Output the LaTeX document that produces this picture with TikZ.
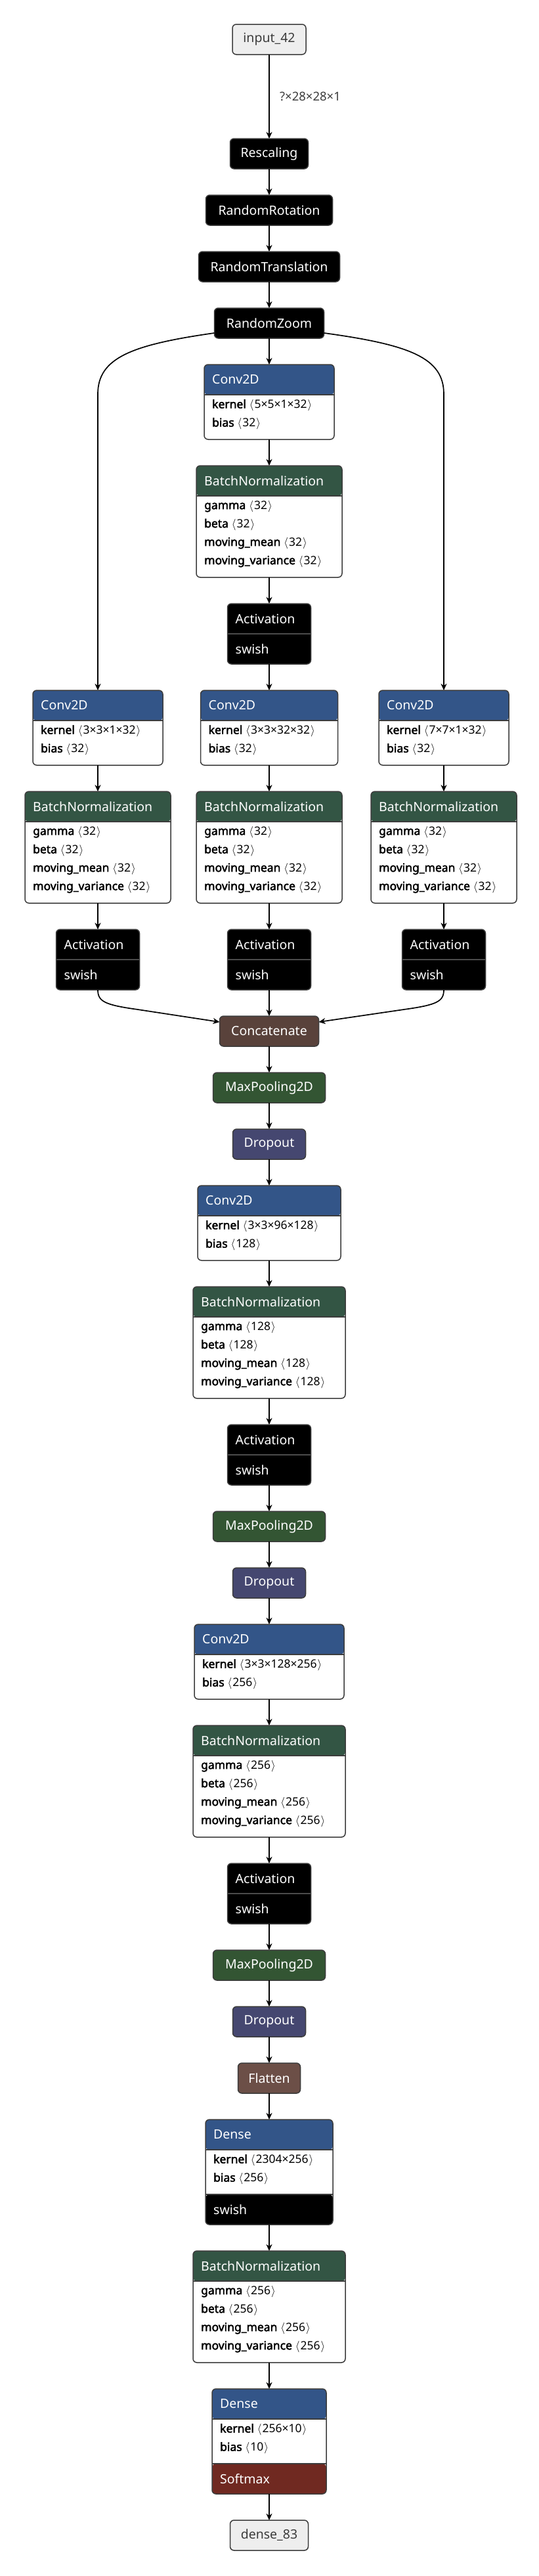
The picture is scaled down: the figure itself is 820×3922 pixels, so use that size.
\documentclass[tikz,border=0pt]{standalone}
\usepackage{fontspec}
\setmainfont{Noto Sans}[BoldFont={Noto Sans},BoldFeatures={FakeBold=2.5}]
\usetikzlibrary{arrows.meta,positioning}
\definecolor{netronLayer}{RGB}{51, 85, 136}
\definecolor{netronNorm}{RGB}{51, 85, 68}
\definecolor{netronPool}{RGB}{51, 85, 51}
\definecolor{netronDrop}{RGB}{69, 71, 112}
\definecolor{netronShape}{RGB}{108, 79, 71}
\definecolor{netronTensor}{RGB}{89, 66, 59}
\definecolor{netronAct}{RGB}{112, 41, 33}
\definecolor{netronIO}{RGB}{238, 238, 238}
\definecolor{netronLine}{RGB}{60, 60, 60}
\definecolor{netronSep}{RGB}{75, 75, 75}
\newcommand{\shp}[1]{\hspace{5pt}$\langle$\hspace{1pt}#1\hspace{1pt}$\rangle$}

\begin{document}
\begin{tikzpicture}[
  x=1pt, y=-1pt,
  op/.style={
    draw=netronLine,
    line width=1.5pt,
    rounded corners=6pt,
    fill=black,
    text=white,
    anchor=north,
    inner sep=0pt,
    outer sep=0pt,
    minimum height=46pt,
    font=\fontsize{19.5}{24}\selectfont
  },
  io/.style={op,fill=netronIO,text=netronLine},
  panel/.style={op,fill=white},
  hdrfill/.style={path picture={
    \fill[#1] (path picture bounding box.north west) rectangle ([yshift=-46pt]path picture bounding box.north east);
    \draw[netronLine,line width=1.5pt] ([yshift=-46pt]path picture bounding box.north west) -- ([yshift=-46pt]path picture bounding box.north east);}},
  hdrtail/.style 2 args={path picture={
    \fill[#1] (path picture bounding box.north west) rectangle ([yshift=-46pt]path picture bounding box.north east);
    \fill[#2] (path picture bounding box.south west) rectangle ([yshift=46pt]path picture bounding box.south east);
    \draw[netronLine,line width=1.5pt] ([yshift=-46pt]path picture bounding box.north west) -- ([yshift=-46pt]path picture bounding box.north east);
    \draw[netronLine,line width=1.5pt] ([yshift=46pt]path picture bounding box.south west) -- ([yshift=46pt]path picture bounding box.south east);}},
  act/.style={op,minimum width=127pt,minimum height=92pt,path picture={
    \draw[netronSep,line width=1.5pt] ([yshift=-46pt]path picture bounding box.north west) -- ([yshift=-46pt]path picture bounding box.north east);}},
  conv/.style={panel,hdrfill=netronLayer,minimum height=114pt},
  norm/.style={panel,hdrfill=netronNorm,minimum height=170pt},
  dense/.style={panel,minimum height=160pt},
  hdrtext/.style={anchor=west,text=white,inner sep=0pt,font=\fontsize{19.5}{24}\selectfont},
  attrs/.style={anchor=north west,align=left,inner sep=0pt,font=\fontsize{17.5}{28}\selectfont,
    execute at begin node={\rule{0pt}{20pt}}},
  flow/.style={-{Stealth[length=10pt,width=9pt,inset=3pt]},line width=1.7pt},
  shapelbl/.style={anchor=west,font=\fontsize{18.5}{22}\selectfont,text=netronLine}
]
  \path[use as bounding box,fill=white] (0,0) rectangle (820,3922);

  % input and augmentation
  \node[io,minimum width=112pt] (input) at (410,37) {input\_42};
  \node[op,minimum width=119pt] (resc) at (410,211) {Rescaling};
  \node[op,minimum width=193pt,below=40pt of resc] (rrot) {RandomRotation};
  \node[op,minimum width=215pt,below=40pt of rrot] (rtrans) {RandomTranslation};
  \node[op,minimum width=167pt,below=40pt of rtrans] (rzoom) {RandomZoom};

  % middle stem
  \node[conv,minimum width=198pt,below=40pt of rzoom] (convA) {};
  \node[hdrtext] at ([xshift=12pt,yshift=-23pt]convA.north west) {Conv2D};
  \node[attrs] at ([xshift=12pt,yshift=-53pt]convA.north west) {\textbf{kernel}\shp{5×5×1×32}\\\textbf{bias}\shp{32}};
  \node[norm,minimum width=222pt,below=40pt of convA] (bnA) {};
  \node[hdrtext] at ([xshift=12pt,yshift=-23pt]bnA.north west) {BatchNormalization};
  \node[attrs] at ([xshift=12pt,yshift=-53pt]bnA.north west) {\textbf{gamma}\shp{32}\\\textbf{beta}\shp{32}\\\textbf{moving\_mean}\shp{32}\\\textbf{moving\_variance}\shp{32}};
  \node[act,below=40pt of bnA] (actA) {};
  \node[hdrtext] at ([xshift=12pt,yshift=-23pt]actA.north west) {Activation};
  \node[hdrtext] at ([xshift=12pt,yshift=-69pt]actA.north west) {swish};

  % three branches
  \node[conv,minimum width=198pt] (convL) at (149,1051) {};
  \node[hdrtext] at ([xshift=12pt,yshift=-23pt]convL.north west) {Conv2D};
  \node[attrs] at ([xshift=12pt,yshift=-53pt]convL.north west) {\textbf{kernel}\shp{3×3×1×32}\\\textbf{bias}\shp{32}};
  \node[conv,minimum width=209pt,below=40pt of actA] (convM) {};
  \node[hdrtext] at ([xshift=12pt,yshift=-23pt]convM.north west) {Conv2D};
  \node[attrs] at ([xshift=12pt,yshift=-53pt]convM.north west) {\textbf{kernel}\shp{3×3×32×32}\\\textbf{bias}\shp{32}};
  \node[conv,minimum width=198pt] (convR) at (676,1051) {};
  \node[hdrtext] at ([xshift=12pt,yshift=-23pt]convR.north west) {Conv2D};
  \node[attrs] at ([xshift=12pt,yshift=-53pt]convR.north west) {\textbf{kernel}\shp{7×7×1×32}\\\textbf{bias}\shp{32}};

  \node[norm,minimum width=222pt,below=40pt of convL] (bnL) {};
  \node[hdrtext] at ([xshift=12pt,yshift=-23pt]bnL.north west) {BatchNormalization};
  \node[attrs] at ([xshift=12pt,yshift=-53pt]bnL.north west) {\textbf{gamma}\shp{32}\\\textbf{beta}\shp{32}\\\textbf{moving\_mean}\shp{32}\\\textbf{moving\_variance}\shp{32}};
  \node[norm,minimum width=222pt,below=40pt of convM] (bnM) {};
  \node[hdrtext] at ([xshift=12pt,yshift=-23pt]bnM.north west) {BatchNormalization};
  \node[attrs] at ([xshift=12pt,yshift=-53pt]bnM.north west) {\textbf{gamma}\shp{32}\\\textbf{beta}\shp{32}\\\textbf{moving\_mean}\shp{32}\\\textbf{moving\_variance}\shp{32}};
  \node[norm,minimum width=222pt,below=40pt of convR] (bnR) {};
  \node[hdrtext] at ([xshift=12pt,yshift=-23pt]bnR.north west) {BatchNormalization};
  \node[attrs] at ([xshift=12pt,yshift=-53pt]bnR.north west) {\textbf{gamma}\shp{32}\\\textbf{beta}\shp{32}\\\textbf{moving\_mean}\shp{32}\\\textbf{moving\_variance}\shp{32}};

  \node[act,below=40pt of bnL] (actL) {};
  \node[hdrtext] at ([xshift=12pt,yshift=-23pt]actL.north west) {Activation};
  \node[hdrtext] at ([xshift=12pt,yshift=-69pt]actL.north west) {swish};
  \node[act,below=40pt of bnM] (actM) {};
  \node[hdrtext] at ([xshift=12pt,yshift=-23pt]actM.north west) {Activation};
  \node[hdrtext] at ([xshift=12pt,yshift=-69pt]actM.north west) {swish};
  \node[act,below=40pt of bnR] (actR) {};
  \node[hdrtext] at ([xshift=12pt,yshift=-23pt]actR.north west) {Activation};
  \node[hdrtext] at ([xshift=12pt,yshift=-69pt]actR.north west) {swish};

  % trunk
  \node[op,fill=netronTensor,minimum width=151pt,below=40pt of actM] (concat) {Concatenate};
  \node[op,fill=netronPool,minimum width=171pt,below=40pt of concat] (poolA) {MaxPooling2D};
  \node[op,fill=netronDrop,minimum width=111pt,below=40pt of poolA] (dropA) {Dropout};
  \node[conv,minimum width=218pt,below=40pt of dropA] (convB) {};
  \node[hdrtext] at ([xshift=12pt,yshift=-23pt]convB.north west) {Conv2D};
  \node[attrs] at ([xshift=12pt,yshift=-53pt]convB.north west) {\textbf{kernel}\shp{3×3×96×128}\\\textbf{bias}\shp{128}};
  \node[norm,minimum width=232pt,below=40pt of convB] (bnB) {};
  \node[hdrtext] at ([xshift=12pt,yshift=-23pt]bnB.north west) {BatchNormalization};
  \node[attrs] at ([xshift=12pt,yshift=-53pt]bnB.north west) {\textbf{gamma}\shp{128}\\\textbf{beta}\shp{128}\\\textbf{moving\_mean}\shp{128}\\\textbf{moving\_variance}\shp{128}};
  \node[act,below=40pt of bnB] (actB) {};
  \node[hdrtext] at ([xshift=12pt,yshift=-23pt]actB.north west) {Activation};
  \node[hdrtext] at ([xshift=12pt,yshift=-69pt]actB.north west) {swish};
  \node[op,fill=netronPool,minimum width=171pt,below=40pt of actB] (poolB) {MaxPooling2D};
  \node[op,fill=netronDrop,minimum width=111pt,below=40pt of poolB] (dropB) {Dropout};
  \node[conv,minimum width=228pt,below=40pt of dropB] (convC) {};
  \node[hdrtext] at ([xshift=12pt,yshift=-23pt]convC.north west) {Conv2D};
  \node[attrs] at ([xshift=12pt,yshift=-53pt]convC.north west) {\textbf{kernel}\shp{3×3×128×256}\\\textbf{bias}\shp{256}};
  \node[norm,minimum width=232pt,below=40pt of convC] (bnC) {};
  \node[hdrtext] at ([xshift=12pt,yshift=-23pt]bnC.north west) {BatchNormalization};
  \node[attrs] at ([xshift=12pt,yshift=-53pt]bnC.north west) {\textbf{gamma}\shp{256}\\\textbf{beta}\shp{256}\\\textbf{moving\_mean}\shp{256}\\\textbf{moving\_variance}\shp{256}};
  \node[act,below=40pt of bnC] (actC) {};
  \node[hdrtext] at ([xshift=12pt,yshift=-23pt]actC.north west) {Activation};
  \node[hdrtext] at ([xshift=12pt,yshift=-69pt]actC.north west) {swish};
  \node[op,fill=netronPool,minimum width=171pt,below=40pt of actC] (poolC) {MaxPooling2D};
  \node[op,fill=netronDrop,minimum width=111pt,below=40pt of poolC] (dropC) {Dropout};
  \node[op,fill=netronShape,minimum width=95pt,below=40pt of dropC] (flat) {Flatten};

  % classifier head
  \node[dense,hdrtail={netronLayer}{black},minimum width=194pt,below=40pt of flat] (denseA) {};
  \node[hdrtext] at ([xshift=12pt,yshift=-23pt]denseA.north west) {Dense};
  \node[attrs] at ([xshift=12pt,yshift=-53pt]denseA.north west) {\textbf{kernel}\shp{2304×256}\\\textbf{bias}\shp{256}};
  \node[hdrtext] at ([xshift=12pt,yshift=23pt]denseA.south west) {swish};
  \node[norm,minimum width=232pt,below=40pt of denseA] (bnD) {};
  \node[hdrtext] at ([xshift=12pt,yshift=-23pt]bnD.north west) {BatchNormalization};
  \node[attrs] at ([xshift=12pt,yshift=-53pt]bnD.north west) {\textbf{gamma}\shp{256}\\\textbf{beta}\shp{256}\\\textbf{moving\_mean}\shp{256}\\\textbf{moving\_variance}\shp{256}};
  \node[dense,hdrtail={netronLayer}{netronAct},minimum width=174pt,below=40pt of bnD] (denseB) {};
  \node[hdrtext] at ([xshift=12pt,yshift=-23pt]denseB.north west) {Dense};
  \node[attrs] at ([xshift=12pt,yshift=-53pt]denseB.north west) {\textbf{kernel}\shp{256×10}\\\textbf{bias}\shp{10}};
  \node[hdrtext] at ([xshift=12pt,yshift=23pt]denseB.south west) {Softmax};
  \node[io,minimum width=119pt,below=40pt of denseB] (output) {dense\_83};

  % connectors
  \draw[flow] (input) -- node[shapelbl,xshift=12pt] {?×28×28×1} (resc);
  \draw[flow] (resc) -- (rrot);
  \draw[flow] (rrot) -- (rtrans);
  \draw[flow] (rtrans) -- (rzoom);
  \draw[flow] (rzoom) -- (convA);
  \draw[flow] ([yshift=8pt]rzoom.south west) .. controls (200,525) and (149,545) .. (149,600) -- (convL.north);
  \draw[flow] ([yshift=8pt]rzoom.south east) .. controls (625,525) and (676,545) .. (676,600) -- (convR.north);
  \draw[flow] (convA) -- (bnA);
  \draw[flow] (bnA) -- (actA);
  \draw[flow] (actA) -- (convM);
  \draw[flow] (convL) -- (bnL);
  \draw[flow] (convM) -- (bnM);
  \draw[flow] (convR) -- (bnR);
  \draw[flow] (bnL) -- (actL);
  \draw[flow] (bnM) -- (actM);
  \draw[flow] (bnR) -- (actR);
  \draw[flow] (actL.south) .. controls (149,1525) and (160,1530) .. (210,1537) -- ([yshift=-9pt]concat.north west);
  \draw[flow] (actM) -- (concat);
  \draw[flow] (actR.south) .. controls (676,1525) and (665,1530) .. (615,1537) -- ([yshift=-9pt]concat.north east);
  \draw[flow] (concat) -- (poolA);
  \draw[flow] (poolA) -- (dropA);
  \draw[flow] (dropA) -- (convB);
  \draw[flow] (convB) -- (bnB);
  \draw[flow] (bnB) -- (actB);
  \draw[flow] (actB) -- (poolB);
  \draw[flow] (poolB) -- (dropB);
  \draw[flow] (dropB) -- (convC);
  \draw[flow] (convC) -- (bnC);
  \draw[flow] (bnC) -- (actC);
  \draw[flow] (actC) -- (poolC);
  \draw[flow] (poolC) -- (dropC);
  \draw[flow] (dropC) -- (flat);
  \draw[flow] (flat) -- (denseA);
  \draw[flow] (denseA) -- (bnD);
  \draw[flow] (bnD) -- (denseB);
  \draw[flow] (denseB) -- (output);
\end{tikzpicture}
\end{document}
